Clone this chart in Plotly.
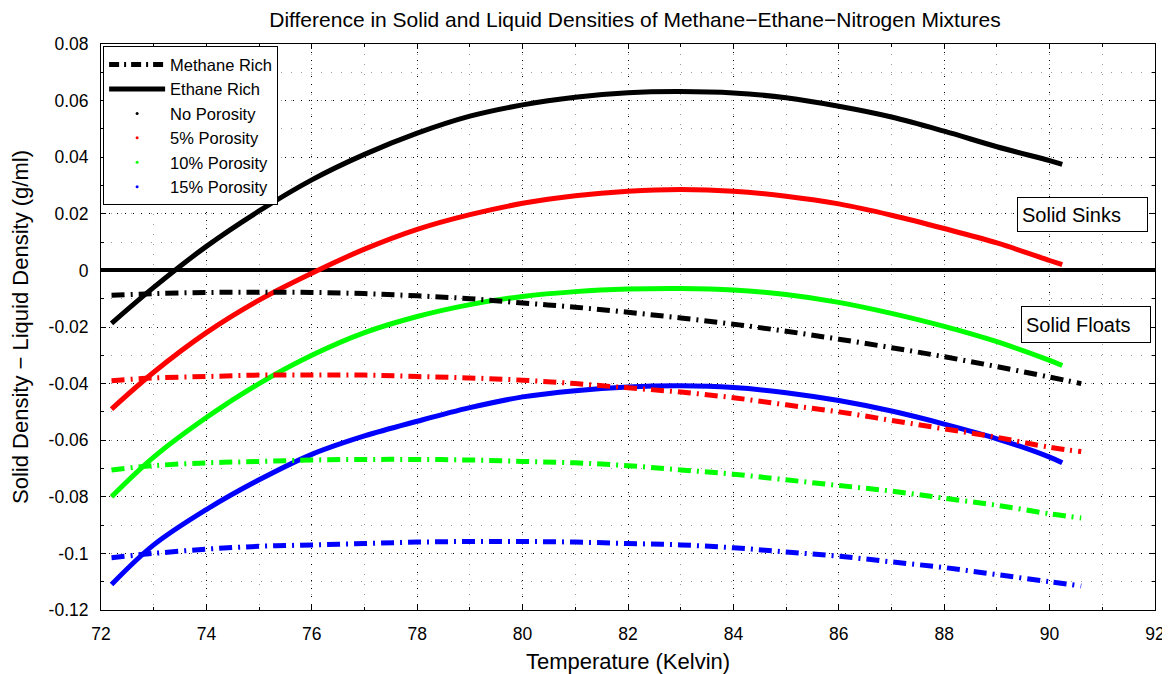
import plotly.graph_objects as go

# Ethane-rich (solid) curves
T_eth = [72.2, 73, 74, 75, 76, 77, 78, 79, 80, 81, 82, 83, 84, 85, 86, 87, 88, 89, 90, 90.24]
eth_none = [-0.0187, -0.006, 0.0085, 0.021, 0.032, 0.041, 0.0485, 0.0545, 0.0585, 0.0612, 0.0628, 0.0632, 0.0627, 0.061, 0.058, 0.0542, 0.0492, 0.0437, 0.0388, 0.0375]
eth_5 = [-0.049, -0.036, -0.022, -0.0105, -0.001, 0.0075, 0.0145, 0.0197, 0.0237, 0.0264, 0.028, 0.0286, 0.028, 0.0262, 0.0235, 0.0195, 0.0148, 0.0097, 0.0035, 0.002]
eth_10 = [-0.080, -0.066, -0.052, -0.040, -0.030, -0.022, -0.0163, -0.0121, -0.0092, -0.0075, -0.0066, -0.0064, -0.0069, -0.0085, -0.0113, -0.0152, -0.0198, -0.0252, -0.0318, -0.0336]
eth_15 = [-0.111, -0.097, -0.0845, -0.074, -0.065, -0.0585, -0.0533, -0.0485, -0.0447, -0.0425, -0.0412, -0.0408, -0.0414, -0.0432, -0.046, -0.0497, -0.0543, -0.0595, -0.066, -0.068]

# Methane-rich (dash-dot) curves
T_met = [72.2, 73, 74, 75, 76, 77, 78, 79, 80, 81, 82, 83, 84, 85, 86, 87, 88, 89, 90, 90.6]
met_none = [-0.0088, -0.0082, -0.0078, -0.0077, -0.0078, -0.0082, -0.009, -0.010, -0.0115, -0.013, -0.0148, -0.0168, -0.019, -0.0215, -0.0243, -0.0273, -0.0305, -0.034, -0.0377, -0.040]
met_5 = [-0.039, -0.038, -0.0375, -0.037, -0.037, -0.037, -0.0375, -0.038, -0.0388, -0.040, -0.0415, -0.043, -0.045, -0.0475, -0.050, -0.053, -0.056, -0.059, -0.0625, -0.064]
met_10 = [-0.0705, -0.069, -0.068, -0.0675, -0.067, -0.0668, -0.0668, -0.067, -0.0675, -0.068, -0.069, -0.0705, -0.072, -0.074, -0.076, -0.078, -0.0805, -0.083, -0.086, -0.0875]
met_15 = [-0.1015, -0.100, -0.0985, -0.0975, -0.097, -0.0965, -0.096, -0.0958, -0.0958, -0.096, -0.0965, -0.097, -0.098, -0.0995, -0.101, -0.103, -0.105, -0.1075, -0.110, -0.1115]

porosity_names = ["No Porosity", "5% Porosity", "10% Porosity", "15% Porosity"]
colors = ["#000000", "#ff0000", "#00ff00", "#0000ff"]

x_ticks = [72, 74, 76, 78, 80, 82, 84, 86, 88, 90, 92]
y_ticks = [0.08, 0.06, 0.04, 0.02, 0, -0.02, -0.04, -0.06, -0.08, -0.1, -0.12]
y_ticktext = ["0.08", "0.06", "0.04", "0.02", "0", "-0.02", "-0.04", "-0.06", "-0.08", "-0.1", "-0.12"]

DASHDOT = "13px,6px,2px,6px"
FONT = "Liberation Sans, Arial, sans-serif"

fig = go.Figure()

for ys, c in zip([eth_none, eth_5, eth_10, eth_15], colors):
    fig.add_trace(go.Scatter(x=T_eth, y=ys, mode="lines", line=dict(color=c, width=5, shape="spline"),
                             showlegend=False, hoverinfo="skip"))
for ys, c in zip([met_none, met_5, met_10, met_15], colors):
    fig.add_trace(go.Scatter(x=T_met, y=ys, mode="lines", line=dict(color=c, width=5, dash=DASHDOT, shape="spline"),
                             showlegend=False, hoverinfo="skip"))

# legend entries
fig.add_trace(go.Scatter(x=[None], y=[None], mode="lines", name="Methane Rich",
                         line=dict(color="black", width=5, dash="10px,5px,2px,5px"), legendgroup="a"))
fig.add_trace(go.Scatter(x=[None], y=[None], mode="lines", name="Ethane Rich",
                         line=dict(color="black", width=5), legendgroup="b"))
for i, (n, c) in enumerate(zip(porosity_names, colors)):
    fig.add_trace(go.Scatter(x=[None], y=[None], mode="markers", name=n,
                             marker=dict(color=c, size=3), legendgroup="g%d" % i))

fig.add_annotation(x=90.63, y=0.0196, xref="x", yref="y", text="Solid Sinks", showarrow=False,
                   font=dict(family=FONT, size=20, color="black"), bordercolor="black", borderwidth=1,
                   bgcolor="white", borderpad=4, width=121, height=25, align="left")
fig.add_annotation(x=90.7, y=-0.0192, xref="x", yref="y", text="Solid Floats", showarrow=False,
                   font=dict(family=FONT, size=20, color="black"), bordercolor="black", borderwidth=1,
                   bgcolor="white", borderpad=4, width=120, height=27, align="left")

axis_common = dict(showline=True, linecolor="black", linewidth=1, mirror="ticks", ticks="inside",
                   ticklen=5, tickcolor="black", showgrid=True, gridcolor="black", griddash="1px,7px",
                   gridwidth=1, ticklabelstandoff=8, ticklabeloverflow="allow", automargin=False,
                   tickfont=dict(family=FONT, size=17.5, color="black"))

fig.update_layout(
    width=1162, height=666,
    paper_bgcolor="white", plot_bgcolor="white",
    margin=dict(l=93, r=15, t=36, b=64),
    title=dict(text="Difference in Solid and Liquid Densities of Methane\u2212Ethane\u2212Nitrogen Mixtures",
               x=0.5396, xanchor="center", y=0.993, yanchor="top", pad=dict(t=0, b=0),
               font=dict(family=FONT, size=21, color="black")),
    xaxis=dict(range=[72, 92], tickvals=x_ticks, zeroline=False,
               minor=dict(dtick=1, ticks="inside", ticklen=3, tickcolor="black", showgrid=True,
                          gridcolor="#999999", griddash="1px,9px"),
               title=dict(text="Temperature (Kelvin)", font=dict(family=FONT, size=22, color="black"), standoff=10),
               **axis_common),
    yaxis=dict(range=[-0.12, 0.08], tickvals=y_ticks, ticktext=y_ticktext,
               zeroline=True, zerolinecolor="black", zerolinewidth=4,
               minor=dict(dtick=0.01, tick0=0, ticks="inside", ticklen=3, tickcolor="black", showgrid=True,
                          gridcolor="#999999", griddash="1px,9px"),
               title=dict(text="Solid Density \u2212 Liquid Density (g/ml)", font=dict(family=FONT, size=22, color="black"), standoff=14),
               **axis_common),
    legend=dict(x=0.002, y=0.996, xanchor="left", yanchor="top", bgcolor="white", bordercolor="black",
                borderwidth=1, font=dict(family=FONT, size=16.5, color="black"), tracegroupgap=0,
                itemwidth=56),
)

fig.write_html("out.html")
